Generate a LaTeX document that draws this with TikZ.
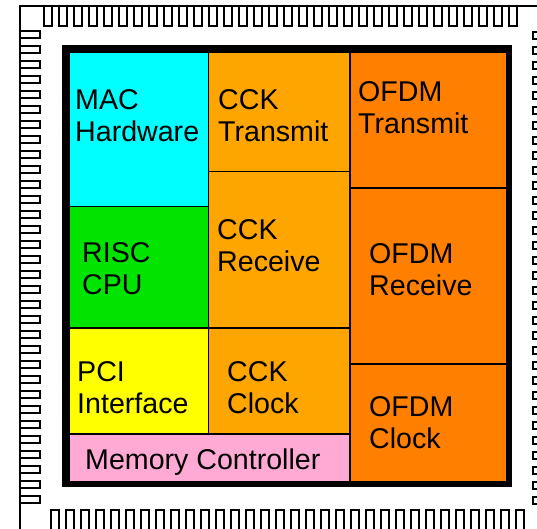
\documentclass[tikz,border=0pt]{standalone}
\usepackage{fontspec}
\setmainfont{Liberation Sans}
\definecolor{maccol}{HTML}{00FFFF}
\definecolor{cckcol}{HTML}{FFA500}
\definecolor{ofdmcol}{HTML}{FF8000}
\definecolor{risccol}{HTML}{00E400}
\definecolor{pcicol}{HTML}{FFFF00}
\definecolor{memcol}{HTML}{FFAAD4}
\newcommand\twolines[2]{\begin{tabular}[t]{@{}l@{}}#1\\#2\end{tabular}}
\begin{document}
\begin{tikzpicture}[x=1pt,y=-1pt,
  blk/.style={draw=black,line width=1.5pt,inner sep=0pt,anchor=north west},
  lbl/.style={anchor=base west,inner sep=0pt,font=\fontsize{28.6}{32}\selectfont},
  pin/.style={draw=black,line width=1.4pt,fill=white}]
\useasboundingbox (0,0) rectangle (537,528);
\clip (0,0) rectangle (537,528);
\fill[white] (0,0) rectangle (537,528);
% package outline
\draw[line width=1.4pt] (20,540) -- (20,6) -- (560,6);
\foreach \k in {0,...,31}{
  \draw[pin] (44+15*\k,6) rectangle (52+15*\k,26);
  \draw[pin] (20,31+15*\k) rectangle (40,38+15*\k);
  \draw[pin] (51+15*\k,510) rectangle (59+15*\k,540);
  \draw[pin] (533,32+15*\k) rectangle (560,39+15*\k);
}
% blocks
\node[blk,fill=maccol,minimum width=139.5pt,minimum height=154.5pt] (mac) at (68,51) {};
\node[blk,fill=risccol,minimum width=139.5pt,minimum height=121.5pt] (risc) at (68,205.5) {};
\node[blk,fill=pcicol,minimum width=139.5pt,minimum height=106pt] (pci) at (68,327) {};
\node[blk,fill=memcol,minimum width=281pt,minimum height=48pt] (mem) at (68,433) {};
\node[blk,fill=cckcol,minimum width=141.5pt,minimum height=119.5pt] (cckt) at (207.5,51) {};
\node[blk,fill=cckcol,minimum width=141.5pt,minimum height=156.5pt] (cckr) at (207.5,170.5) {};
\node[blk,fill=cckcol,minimum width=141.5pt,minimum height=106pt] (cckc) at (207.5,327) {};
\node[blk,fill=ofdmcol,minimum width=157pt,minimum height=136pt] (ofdmt) at (349,51) {};
\node[blk,fill=ofdmcol,minimum width=157pt,minimum height=176pt] (ofdmr) at (349,187) {};
\node[blk,fill=ofdmcol,minimum width=157pt,minimum height=118pt] (ofdmc) at (349,363) {};
% chip border
\draw[line width=6pt] (65,48) rectangle (509,484);
% labels
\node[lbl] (macl) at (75,109) {\twolines{MAC}{Hardware}};
\node[lbl] (ccktl) at (218,109) {\twolines{CCK}{Transmit}};
\node[lbl] (ofdmtl) at (358,101) {\twolines{OFDM}{Transmit}};
\node[lbl] (riscl) at (82,262) {\twolines{RISC}{CPU}};
\node[lbl] (cckrl) at (217,239) {\twolines{CCK}{Receive}};
\node[lbl] (ofdmrl) at (369,263) {\twolines{OFDM}{Receive}};
\node[lbl] (pcil) at (77,381) {\twolines{PCI}{Interface}};
\node[lbl] (cckcl) at (227,381) {\twolines{CCK}{Clock}};
\node[lbl] (ofdmcl) at (369,416) {\twolines{OFDM}{Clock}};
\node[lbl] (meml) at (85,469) {Memory Controller};
\end{tikzpicture}
\end{document}
